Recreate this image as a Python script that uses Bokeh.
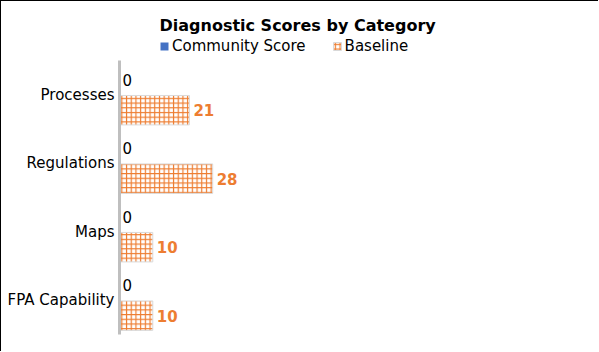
from bokeh.plotting import figure
from bokeh.models import ColumnDataSource, Range1d, Legend, LegendItem, LabelSet, FixedTicker
from bokeh.core.properties import value
from bokeh.transform import dodge
from bokeh.embed import file_html
from bokeh.resources import INLINE

categories = ["Processes", "Regulations", "Maps", "FPA Capability"]
community = [0, 0, 0, 0]
baseline = [21, 28, 10, 10]
series_names = ["Community Score", "Baseline"]

n = len(categories)
ypos = [n - 1 - i for i in range(n)]  # first category at top

src = ColumnDataSource(dict(
    y=ypos,
    community=community,
    baseline=baseline,
    community_txt=[str(v) for v in community],
    baseline_txt=[str(v) for v in baseline],
))

p = figure(width=598, height=351, output_backend="svg", toolbar_location=None,
           y_range=Range1d(-0.5, n - 0.5 + 0.38),
           x_range=Range1d(0, 140),
           min_border_left=118, min_border_right=14, min_border_bottom=18, min_border_top=33)
p.styles = {"border-left": "1px solid black", "border-top": "1px solid black"}

p.title.text = "Diagnostic Scores by Category"
p.title.align = "left"
p.title.offset = 40
p.title.text_font = "DejaVu Sans"
p.title.text_font_size = "16px"
p.title.text_font_style = "bold"
p.title.text_color = "black"
p.title.standoff = 0

r1 = p.hbar(y=dodge("y", 0.22), right="community", left=0, height=0.43,
            source=src, fill_color="#4472C4", line_color=None)
r2 = p.hbar(y=dodge("y", -0.225), right="baseline", left=0, height=0.43,
            source=src, fill_color="white", line_color="#d9d9d9", line_width=1,
            hatch_pattern="+", hatch_color="#ED7D31", hatch_scale=4.7, hatch_weight=1.2)

l1 = LabelSet(x="community", y=dodge("y", 0.22), text="community_txt", source=src,
              x_offset=3, text_align="left", text_baseline="middle",
              text_font=value("DejaVu Sans"), text_font_size=value("15px"), text_color="black")
l2 = LabelSet(x="baseline", y=dodge("y", -0.225), text="baseline_txt", source=src,
              x_offset=4, text_align="left", text_baseline="middle",
              text_font=value("DejaVu Sans"), text_font_size=value("15px"), text_font_style="bold",
              text_color="#ED7D31")
p.add_layout(l1)
p.add_layout(l2)

legend = Legend(items=[LegendItem(label=series_names[0], renderers=[r1]),
                       LegendItem(label=series_names[1], renderers=[r2])],
                orientation="horizontal", location=(40, 279),
                label_text_font="DejaVu Sans", label_text_font_size="15px", label_text_color="black",
                glyph_width=10, glyph_height=10, label_standoff=3, spacing=26,
                border_line_color=None, background_fill_alpha=0,
                padding=0, margin=0)
p.add_layout(legend)

p.xaxis.visible = False
p.xgrid.visible = False
p.ygrid.visible = False
p.outline_line_color = None
p.yaxis.ticker = FixedTicker(ticks=ypos)
p.yaxis.major_label_overrides = {y: c for y, c in zip(ypos, categories)}
p.yaxis.bounds = (-0.5, n - 0.5)
p.yaxis.axis_line_color = "#bfbfbf"
p.yaxis.axis_line_width = 3
p.yaxis.major_tick_line_color = None
p.yaxis.minor_tick_line_color = None
p.yaxis.major_tick_out = 0
p.yaxis.major_tick_in = 0
p.yaxis.major_label_text_font = "DejaVu Sans"
p.yaxis.major_label_text_font_size = "15px"
p.yaxis.major_label_text_color = "black"
p.yaxis.major_label_standoff = 5

open("out.html", "w").write(file_html(p, INLINE))
